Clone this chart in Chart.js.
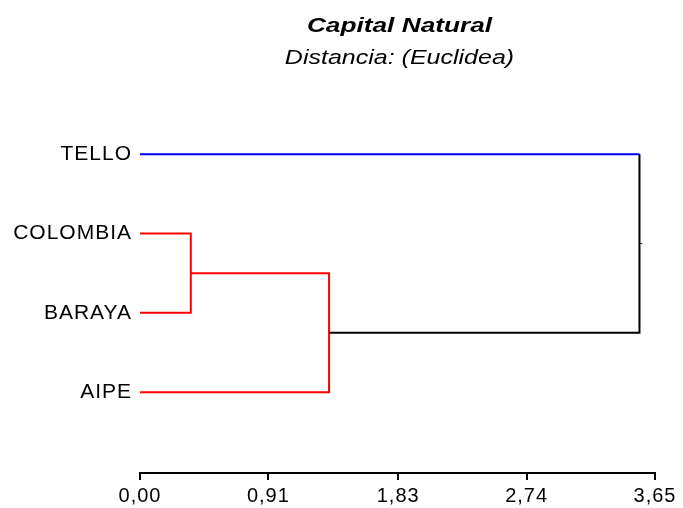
<!DOCTYPE html>
<html>
<head>
<meta charset="utf-8">
<script src="https://cdn.jsdelivr.net/npm/chart.js@4/dist/chart.umd.min.js"></script>
<style>
  html, body { margin: 0; padding: 0; background: #fff; }
  #wrap { width: 683px; height: 508px; }
</style>
</head>
<body>
<div id="wrap"><canvas id="c" width="683" height="508"></canvas></div>
<script>
// Leaves of the tree, top to bottom
const leafNames = ['TELLO', 'COLOMBIA', 'BARAYA', 'AIPE'];
// Agglomeration steps: node A joined with node B at the given distance
const joinA = ['COLOMBIA', 'N1', 'TELLO'];
const joinB = ['BARAYA', 'AIPE', 'N2'];
const joinDistance = [0.36, 1.34, 3.54];
// Distance axis
const tickValues = [0, 0.91, 1.83, 2.74, 3.65];
const tickLabels = ['0,00', '0,91', '1,83', '2,74', '3,65'];

const titleText = 'Capital Natural';
const subtitleText = 'Distancia: (Euclidea)';

// Branch colours (child -> parent) and colours of each join's vertical
const branchColor = { TELLO: '#0000ff', COLOMBIA: '#ff0000', BARAYA: '#ff0000', AIPE: '#ff0000', N1: '#ff0000', N2: '#000000' };
const joinColor = ['#ff0000', '#ff0000', '#000000'];

// Node positions: x = distance, y = row
const nodes = {};
leafNames.forEach((n, i) => { nodes[n] = { x: 0, y: i + 1 }; });
joinDistance.forEach((d, i) => {
  const a = nodes[joinA[i]], b = nodes[joinB[i]];
  nodes['N' + (i + 1)] = { x: d, y: (a.y + b.y) / 2 };
});

const datasets = joinDistance.map((d, i) => {
  const a = nodes[joinA[i]], b = nodes[joinB[i]];
  const cols = [branchColor[joinA[i]], joinColor[i], branchColor[joinB[i]]];
  return {
    data: [{ x: a.x, y: a.y }, { x: d, y: a.y }, { x: d, y: b.y }, { x: b.x, y: b.y }],
    showLine: true,
    pointRadius: 0,
    borderWidth: 2,
    borderColor: cols[0],
    borderJoinStyle: 'miter',
    segment: { borderColor: ctx => cols[ctx.p0DataIndex] },
    order: joinDistance.length - i
  };
});

// Stub marking the root node
const rootNode = nodes['N' + joinDistance.length];
datasets.push({
  data: [{ x: rootNode.x, y: rootNode.y }, { x: rootNode.x + 0.02, y: rootNode.y }],
  showLine: true, pointRadius: 0, borderWidth: 1, borderColor: '#000000', order: 0
});

const FONT = "'Liberation Sans', Arial, Helvetica, sans-serif";

// Slightly spaced lettering for the axis labels
const spacingPlugin = {
  id: 'labelSpacing',
  beforeDraw(chart) { chart.ctx.letterSpacing = '1px'; },
  afterDraw(chart) { chart.ctx.letterSpacing = '0px'; }
};

const titlePlugin = {
  id: 'headings',
  afterDraw(chart) {
    const ctx = chart.ctx;
    const cx = (chart.chartArea.left + chart.chartArea.right) / 2 + 2;
    ctx.save();
    ctx.letterSpacing = '0px';
    ctx.fillStyle = '#000';
    ctx.textAlign = 'center';
    ctx.textBaseline = 'middle';
    ctx.font = 'italic bold 21px ' + FONT;
    ctx.translate(cx, 26);
    ctx.scale(1.25, 1);
    ctx.fillText(titleText, 0, 0);
    ctx.restore();
    ctx.save();
    ctx.letterSpacing = '0px';
    ctx.fillStyle = '#000';
    ctx.textAlign = 'center';
    ctx.textBaseline = 'middle';
    ctx.font = 'italic 20px ' + FONT;
    ctx.translate(cx, 58);
    ctx.scale(1.25, 1);
    ctx.fillText(subtitleText, 0, 0);
    ctx.restore();
  }
};

new Chart(document.getElementById('c'), {
  type: 'scatter',
  data: { datasets },
  plugins: [spacingPlugin, titlePlugin],
  options: {
    responsive: false,
    animation: false,
    layout: { padding: { top: 75, right: 28, left: 0, bottom: 0 } },
    plugins: { legend: { display: false }, tooltip: { enabled: false } },
    scales: {
      x: {
        type: 'linear',
        min: 0,
        max: 3.65,
        afterBuildTicks: s => { s.ticks = tickValues.map(v => ({ value: v })); },
        afterFit: s => { s.height = 35; },
        ticks: {
          autoSkip: false,
          maxRotation: 0,
          padding: 4,
          color: '#000',
          font: { family: FONT, size: 20 },
          callback: (v, i) => tickLabels[i]
        },
        grid: { drawOnChartArea: false, drawTicks: true, tickLength: 7, color: '#000', lineWidth: 2 },
        border: { display: true, color: '#000', width: 2 }
      },
      y: {
        type: 'linear',
        reverse: true,
        min: 0,
        max: 5.02,
        afterBuildTicks: s => { s.ticks = leafNames.map((n, i) => ({ value: i + 1 })); },
        afterFit: s => { s.width = 140; },
        ticks: {
          autoSkip: false,
          padding: 0,
          color: '#000',
          font: { family: FONT, size: 21 },
          callback: v => leafNames[v - 1]
        },
        grid: { display: false },
        border: { display: false }
      }
    }
  }
});
</script>
</body>
</html>
